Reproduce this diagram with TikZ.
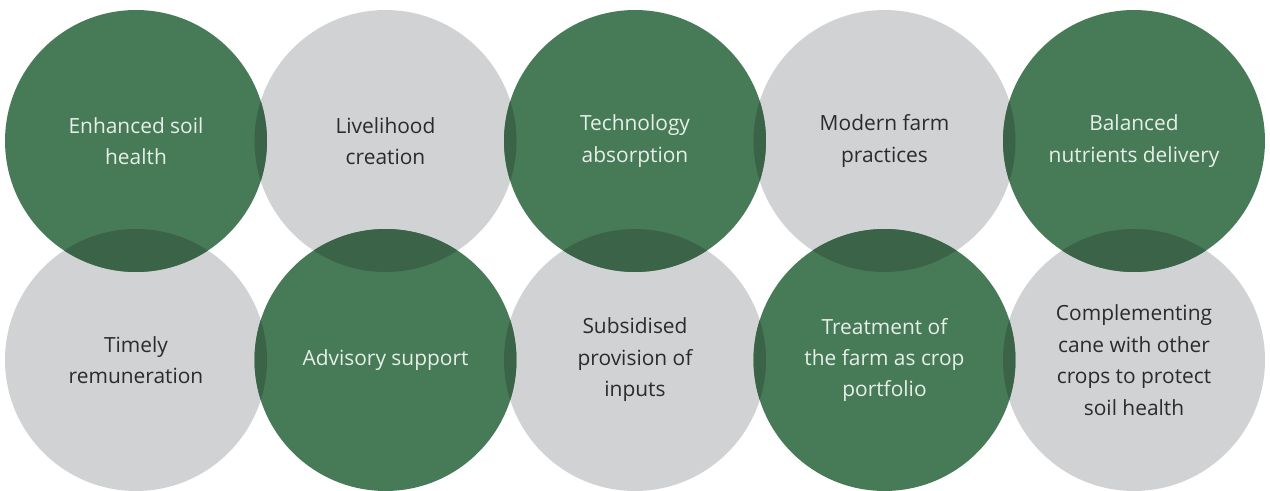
\documentclass[tikz,border=0pt]{standalone}
\usepackage{fontspec}
\setmainfont{Open Sans}
\usepackage{tikz}
\definecolor{leafgreen}{HTML}{477A57}
\definecolor{mistgray}{HTML}{D1D2D4}
\definecolor{deepgreen}{HTML}{3A6347}
\definecolor{inkgray}{HTML}{2B2B2B}
\definecolor{palegreen}{HTML}{E6EFE8}
\tikzset{
  bubble/.style={circle, minimum size=5.24cm, inner sep=0pt, align=center,
    font=\fontsize{11.9}{17.9}\selectfont},
  greenbubble/.style={bubble, fill=leafgreen, text=palegreen},
  graybubble/.style={bubble, fill=mistgray, text=inkgray},
}
\newcommand{\lens}[2]{%
  \begin{scope}
    \clip (#1.center) circle (2.62cm);
    \fill[deepgreen] (#2.center) circle (2.62cm);
  \end{scope}}
\begin{document}
\begin{tikzpicture}[x=0.02cm, y=-0.02cm]
	\useasboundingbox (0,0) rectangle (1270,490);
	\fill[white] (0,0) rectangle (1270,490);
	% grey circles
	\node[graybubble] (live) at (385.5,141) {Livelihood\\creation};
	\node[graybubble] (modern) at (884.5,141) {Modern farm\\practices};
	\node[graybubble] (timely) at (136,360) {Timely\\remuneration};
	\node[graybubble] (subsid) at (635,360) {Subsidised\\provision of\\inputs};
	\node[graybubble] (compl) at (1134,360) {Complementing\\cane with other\\crops to protect\\soil health};
	% green circles
	\node[greenbubble] (soil) at (136,141) {Enhanced soil\\health};
	\node[greenbubble] (tech) at (635,141) {Technology\\absorption};
	\node[greenbubble] (balance) at (1134,141) {Balanced\\nutrients delivery};
	\node[greenbubble] (advice) at (385.5,360) {Advisory support};
	\node[greenbubble] (treat) at (884.5,360) {Treatment of\\the farm as crop\\portfolio};
	% overlaps
	\lens{soil}{live} \lens{soil}{timely}
	\lens{tech}{live} \lens{tech}{modern} \lens{tech}{subsid}
	\lens{balance}{modern} \lens{balance}{compl}
	\lens{advice}{timely} \lens{advice}{live} \lens{advice}{subsid}
	\lens{treat}{subsid} \lens{treat}{modern} \lens{treat}{compl}
\end{tikzpicture}
\end{document}
